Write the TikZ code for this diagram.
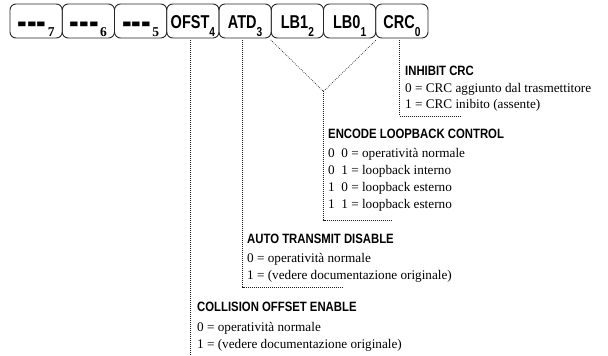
\documentclass[tikz,border=0pt]{standalone}
\usepackage{fontspec}
\setmainfont{Liberation Serif}
\newfontfamily\titlefont[FakeStretch=0.84]{Liberation Sans Bold}
\newfontfamily\labelfont[FakeStretch=0.78]{Liberation Sans Bold}
\newfontfamily\subserif{Liberation Serif Bold}
\usetikzlibrary{calc}

% subscripts of the register field labels
\newcommand\lsub[1]{\raisebox{-7.8bp}{\fontsize{13bp}{14bp}\selectfont #1}}
\newcommand\ssub[1]{\raisebox{-7.8bp}{\subserif\fontsize{13.5bp}{14bp}\selectfont #1}}
\newcommand\unused{\raisebox{-6bp}{\scalebox{2.0}[2.1]{-{}-{}-}}\hspace{1.5bp}}

\tikzset{
  regbox/.style={draw=black!85, line width=0.9bp, rounded corners=6bp,
    minimum width=52.25bp, minimum height=34bp, inner sep=0pt,
    text height=17.3bp, text depth=2.7bp,
    font=\labelfont\fontsize{18.6bp}{20bp}\selectfont},
  guide/.style={draw=black!90, line width=0.7bp, dash pattern=on 0.7bp off 1.3bp},
  heading/.style={anchor=base west, inner sep=0pt,
    font=\titlefont\fontsize{13.5bp}{16bp}\selectfont},
  entry/.style={anchor=base west, inner sep=0pt,
    font=\fontsize{13.2bp}{16bp}\selectfont},
}

\begin{document}
\begin{tikzpicture}[x=1bp, y=-1bp]
\useasboundingbox (0,0) rectangle (608,355);

% register bits 7..0
\node[regbox] (b7)   at (36.125,21)  {\unused\ssub{7}};
\node[regbox] (b6)   at (88.375,21)  {\unused\ssub{6}};
\node[regbox] (b5)   at (140.625,21) {\unused\ssub{5}};
\node[regbox] (ofst) at (192.875,21) {OFST\lsub{4}};
\node[regbox] (atd)  at (245.125,21) {ATD\lsub{3}};
\node[regbox] (lb1)  at (297.375,21) {LB1\lsub{2}};
\node[regbox] (lb0)  at (349.625,21) {LB0\lsub{1}};
\node[regbox] (crc)  at (401.875,21) {CRC\lsub{0}};

% taps under the fields
\coordinate (ofsttap) at ([shift={(-2.3bp,-2bp)}]ofst.south);
\coordinate (atdtap)  at ([shift={(-2.6bp,-2bp)}]atd.south);
\coordinate (crctap)  at ([shift={(-2.8bp,-2bp)}]crc.south);
\coordinate (lbleft)  at ([yshift=-1.5bp]lb1.south west);
\coordinate (lbright) at ([yshift=-1.5bp]lb0.south east);
\coordinate (apex)    at ($(lbleft)!0.5!(lbright)+(0,51.5)$);

% levels and ends of the brackets
\coordinate (yfoot) at (0,355);
\coordinate (yatd)  at (0,287);
\coordinate (yenc)  at (0,220);
\coordinate (yinh)  at (0,116);
\coordinate (atdend) at (342,287);
\coordinate (encend) at (392,220);
\coordinate (inhend) at (460,116);

\draw[guide] (ofsttap) -- (ofsttap |- yfoot);
\draw[guide] (atdtap) -- (atdtap |- yatd) -- (atdend);
\draw[guide] (lbleft) -- (apex) -- (lbright);
\draw[guide] (apex) -- (apex |- yenc) -- (encend);
\draw[guide] (crctap) -- (crctap |- yinh) -- (inhend);

% INHIBIT CRC
\node[heading] (inh)  at (405,75)    {INHIBIT CRC};
\node[entry]   (inh0) at (405,92)    {0 = CRC aggiunto dal trasmettitore};
\node[entry]   (inh1) at (405,108.7) {1 = CRC inibito (assente)};

% ENCODE LOOPBACK CONTROL
\node[heading] (enc)   at (328,138) {ENCODE LOOPBACK CONTROL};
\node[entry]   (enc00) at (328,157) {0~~0 = operatività normale};
\node[entry]   (enc01) at (328,174) {0~~1 = loopback interno};
\node[entry]   (enc10) at (328,191) {1~~0 = loopback esterno};
\node[entry]   (enc11) at (328,208) {1~~1 = loopback esterno};

% AUTO TRANSMIT DISABLE
\node[heading] (atdh)  at (247,243) {AUTO TRANSMIT DISABLE};
\node[entry]   (atd0)  at (247,262) {0 = operatività normale};
\node[entry]   (atd1)  at (247,279) {1 = (vedere documentazione originale)};

% COLLISION OFFSET ENABLE
\node[heading] (col)   at (197,311) {COLLISION OFFSET ENABLE};
\node[entry]   (col0)  at (197,331) {0 = operatività normale};
\node[entry]   (col1)  at (197,348) {1 = (vedere documentazione originale)};
\end{tikzpicture}
\end{document}
